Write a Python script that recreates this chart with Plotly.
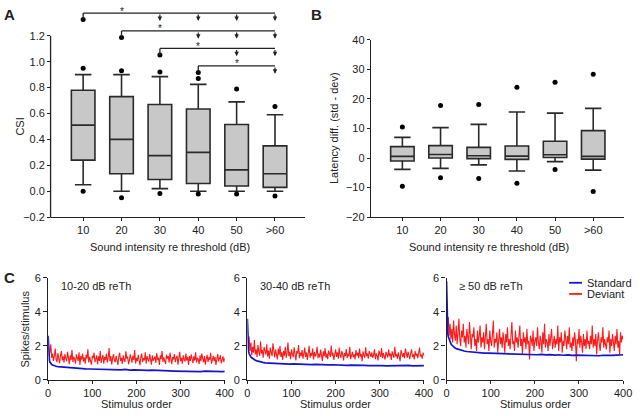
import plotly.graph_objects as go

# ---------------- data ----------------
categories = ["10", "20", "30", "40", "50", ">60"]

# Panel A: CSI box plots
csi_q1 = [0.24, 0.135, 0.09, 0.06, 0.04, 0.03]
csi_median = [0.51, 0.40, 0.275, 0.30, 0.165, 0.135]
csi_q3 = [0.78, 0.73, 0.67, 0.635, 0.515, 0.35]
csi_lower = [0.05, 0.0, 0.02, 0.0, 0.0, 0.0]
csi_upper = [0.90, 0.90, 0.885, 0.825, 0.69, 0.59]
csi_out_hi = [0.95, 0.93, 0.92, 0.87, 0.79, 0.655]
csi_out_lo = [0.0, -0.05, -0.017, -0.022, -0.022, -0.037]

# significance brackets in panel A
sig_from = [0, 1, 2, 3]
sig_level = [1.375, 1.2375, 1.1025, 0.9675]
sig_star = [1, 2, 3, 4]
sig_arrows = [[2, 3, 4, 5], [3, 4, 5], [4, 5], [5]]

# Panel B: latency difference box plots
lat_q1 = [-1.0, 0.0, -0.2, -0.45, 0.2, -0.35]
lat_median = [0.55, 1.2, 0.77, 0.66, 1.1, 0.55]
lat_q3 = [3.85, 4.2, 3.6, 4.07, 5.7, 9.3]
lat_lower = [-3.85, -3.5, -2.3, -4.4, -1.2, -4.1]
lat_upper = [7.0, 10.3, 11.4, 15.6, 15.2, 16.8]
lat_out_hi = [10.5, 17.8, 18.1, 24.0, 25.7, 28.4]
lat_out_lo = [-9.55, -6.7, -6.9, -8.5, -3.85, -11.3]

# Panel C: spikes per stimulus
std_x = [0, 1, 2, 3, 4, 5, 6, 8, 10, 12, 15, 18, 22, 26, 30, 35, 40, 46, 52, 60,
         68, 76, 85, 95, 105, 115, 125, 135, 145, 155, 165, 175, 185, 195, 205,
         215, 225, 235, 245, 255, 265, 275, 285, 295, 305, 315, 325, 335, 345,
         355, 365, 375, 385, 395, 400]
std_1020 = [2.6, 1.6, 1.3, 1.15, 1.05, 1.0, 0.95, 0.9, 0.88, 0.85,
            0.82, 0.8, 0.78, 0.77, 0.75, 0.74, 0.72, 0.71, 0.70, 0.68,
            0.67, 0.66, 0.65, 0.64, 0.63, 0.62, 0.61, 0.62, 0.60, 0.60,
            0.59, 0.62, 0.58, 0.59, 0.57, 0.58, 0.56, 0.57, 0.55, 0.54,
            0.52, 0.53, 0.52, 0.51, 0.52, 0.50, 0.51, 0.50, 0.49, 0.51,
            0.50, 0.48, 0.50, 0.49, 0.50]
std_3040 = [3.6, 2.3, 1.85, 1.65, 1.55, 1.48, 1.42, 1.35, 1.30, 1.26,
            1.20, 1.16, 1.12, 1.08, 1.05, 1.03, 1.00, 0.99, 0.97, 0.96,
            0.95, 0.96, 0.94, 0.93, 0.94, 0.92, 0.91, 0.92, 0.90, 0.91,
            0.89, 0.90, 0.88, 0.89, 0.87, 0.88, 0.86, 0.87, 0.85, 0.86,
            0.85, 0.84, 0.85, 0.83, 0.84, 0.83, 0.84, 0.82, 0.84, 0.83,
            0.85, 0.83, 0.84, 0.85, 0.84]
std_50 = [5.8, 3.6, 3.0, 2.7, 2.55, 2.45, 2.35, 2.22, 2.12, 2.05,
          1.96, 1.90, 1.84, 1.80, 1.76, 1.72, 1.70, 1.67, 1.65, 1.62,
          1.60, 1.61, 1.58, 1.57, 1.56, 1.55, 1.54, 1.55, 1.52, 1.53,
          1.50, 1.52, 1.49, 1.51, 1.48, 1.50, 1.47, 1.49, 1.46, 1.48,
          1.45, 1.47, 1.44, 1.46, 1.45, 1.43, 1.46, 1.44, 1.42, 1.45,
          1.43, 1.44, 1.46, 1.45, 1.48]

dev_x = list(range(2, 401, 2))
dev_1020 = [
    1.45, 1.62, 2.10, 1.30, 1.55, 1.12, 1.40, 1.85, 1.20, 1.05, 1.58, 1.32, 0.98, 1.46, 1.70, 1.15, 1.38, 1.02, 1.52, 1.25,
    1.10, 1.65, 1.28, 0.92, 1.44, 1.18, 1.75, 1.05, 1.36, 1.22, 0.95, 1.50, 1.30, 1.12, 1.62, 0.88, 1.40, 1.20, 1.55, 1.08,
    1.32, 0.96, 1.48, 1.25, 1.80, 1.02, 1.35, 1.15, 0.90, 1.42, 1.28, 1.60, 1.05, 1.22, 1.45, 0.92, 1.38, 1.12, 1.70, 1.00,
    1.25, 1.48, 0.95, 1.35, 1.18, 1.55, 1.02, 1.30, 1.88, 1.10, 1.40, 0.90, 1.28, 1.52, 1.15, 1.05, 1.42, 1.22, 0.88, 1.35,
    1.60, 1.12, 1.30, 0.94, 1.45, 1.20, 1.05, 1.68, 1.25, 1.38, 0.92, 1.15, 1.50, 1.28, 1.02, 1.42, 1.18, 1.75, 0.96, 1.30,
    1.10, 1.48, 1.22, 0.86, 1.35, 1.55, 1.05, 1.28, 1.15, 1.62, 0.95, 1.40, 1.20, 1.08, 1.52, 1.30, 0.90, 1.45, 1.12, 1.25,
    1.38, 1.00, 1.58, 1.18, 1.30, 0.88, 1.45, 1.22, 1.70, 1.05, 1.32, 1.12, 0.94, 1.48, 1.25, 1.40, 1.02, 1.60, 1.15, 0.92,
    1.35, 1.20, 1.52, 1.05, 1.28, 1.42, 0.90, 1.18, 1.65, 1.10, 1.30, 0.96, 1.45, 1.22, 1.08, 1.55, 1.15, 1.35, 0.88, 1.40,
    1.12, 1.50, 1.25, 0.98, 1.38, 1.15, 1.62, 1.02, 1.30, 1.20, 0.92, 1.45, 1.10, 1.55, 1.28, 1.05, 1.40, 0.90, 1.22, 1.48,
    1.05, 1.32, 1.18, 1.60, 0.95, 1.25, 1.42, 1.10, 1.35, 0.88, 1.20, 1.52, 1.08, 1.30, 1.45, 0.98, 1.22, 1.38, 1.05, 1.28]
dev_3040 = [
    1.85, 2.55, 1.70, 2.20, 1.45, 1.95, 1.60, 2.35, 1.50, 1.80, 1.35, 2.05, 1.65, 1.42, 2.25, 1.55, 1.75, 1.30, 1.95, 1.62,
    1.48, 2.10, 1.38, 1.72, 1.25, 1.90, 1.55, 1.40, 2.15, 1.60, 1.32, 1.78, 1.50, 1.20, 1.85, 1.45, 2.00, 1.35, 1.62, 1.18,
    1.70, 1.42, 1.95, 1.30, 1.58, 2.20, 1.40, 1.65, 1.22, 1.80, 1.50, 1.35, 1.92, 1.45, 1.15, 1.70, 1.55, 2.05, 1.28, 1.60,
    1.40, 1.75, 1.25, 1.55, 1.90, 1.35, 1.62, 1.18, 1.48, 2.00, 1.30, 1.58, 1.42, 1.85, 1.20, 1.65, 1.38, 1.52, 1.95, 1.28,
    1.55, 1.32, 1.78, 1.45, 1.12, 1.68, 1.40, 1.88, 1.30, 1.55, 1.22, 1.72, 1.48, 1.35, 2.02, 1.42, 1.60, 1.18, 1.50, 1.80,
    1.35, 1.62, 1.25, 1.90, 1.45, 1.30, 1.70, 1.52, 1.15, 1.58, 1.40, 1.82, 1.28, 1.55, 1.38, 1.95, 1.22, 1.48, 1.65, 1.32,
    1.50, 1.20, 1.75, 1.42, 1.60, 1.28, 1.85, 1.38, 1.52, 1.10, 1.68, 1.45, 1.30, 1.92, 1.40, 1.55, 1.25, 1.70, 1.48, 1.35,
    1.62, 1.30, 1.48, 1.80, 1.22, 1.55, 1.40, 1.15, 1.72, 1.45, 1.35, 1.88, 1.28, 1.58, 1.42, 1.20, 1.65, 1.50, 1.32, 1.78,
    1.40, 1.55, 1.18, 1.68, 1.45, 1.30, 1.95, 1.38, 1.52, 1.25, 1.62, 1.42, 1.10, 1.75, 1.48, 1.35, 1.58, 1.28, 1.85, 1.40,
    1.30, 1.65, 1.45, 1.22, 1.58, 1.80, 1.35, 1.50, 1.20, 1.70, 1.42, 1.55, 1.28, 1.62, 1.90, 1.38, 1.48, 1.25, 1.60, 1.45]
dev_50 = [
    3.10, 3.70, 2.60, 3.30, 2.40, 3.00, 2.20, 3.50, 2.70, 2.30, 3.20, 2.10, 2.80, 3.60, 2.40, 2.00, 2.90, 2.50, 3.30, 2.20,
    2.60, 1.90, 3.00, 2.40, 2.10, 3.40, 2.30, 1.80, 2.70, 2.50, 3.10, 2.00, 2.40, 1.70, 2.90, 2.20, 2.60, 3.20, 1.90, 2.50,
    2.20, 2.80, 1.80, 2.50, 3.30, 2.10, 2.40, 1.70, 2.90, 2.30, 2.00, 2.70, 3.50, 1.90, 2.40, 2.20, 2.80, 1.60, 2.60, 3.00,
    2.10, 2.50, 1.90, 2.80, 2.30, 1.60, 2.70, 2.20, 3.10, 2.00, 2.40, 1.80, 2.60, 3.40, 2.10, 2.30, 1.70, 2.90, 2.20, 2.50,
    1.90, 2.60, 3.20, 2.00, 2.40, 1.50, 2.80, 2.20, 2.50, 1.80, 3.00, 2.10, 2.30, 1.20, 2.60, 2.40, 2.00, 2.90, 1.70, 2.30,
    2.50, 2.00, 3.10, 2.20, 1.80, 2.60, 2.30, 1.60, 2.80, 2.10, 3.30, 1.90, 2.40, 2.20, 1.70, 2.70, 2.00, 2.50, 3.00, 1.80,
    2.30, 2.60, 1.90, 2.40, 2.10, 3.20, 1.70, 2.50, 2.20, 2.80, 1.60, 2.30, 2.00, 2.90, 2.40, 1.80, 2.60, 2.10, 3.10, 1.90,
    2.20, 1.70, 2.50, 2.00, 2.80, 2.30, 1.10, 2.40, 2.10, 3.00, 1.90, 2.60, 2.20, 1.60, 2.70, 2.00, 2.40, 1.80, 2.90, 2.10,
    2.30, 1.80, 2.60, 2.10, 3.20, 1.90, 2.40, 2.00, 2.70, 1.50, 2.30, 2.80, 2.10, 1.70, 2.50, 2.20, 3.10, 1.90, 2.40, 2.00,
    1.80, 2.50, 2.20, 2.90, 1.60, 2.40, 2.00, 2.70, 2.20, 1.70, 2.60, 2.10, 3.00, 1.90, 2.30, 1.50, 2.80, 2.20, 2.60, 2.40]

c_titles = ["10-20 dB reTh", "30-40 dB reTh", "\u2265 50 dB reTh"]

# ---------------- styling / layout helpers ----------------
W, H = 640, 416
FONT = "Arial, 'Liberation Sans', sans-serif"
INK = "#222222"
BOXFILL = "#c8c8c8"
BLUE = "#1414d2"
RED = "#ff1a1a"
FS = 11


def fx(p):
    return p / W


def fy(p):
    return 1 - p / H


fig = go.Figure()

idx = list(range(len(categories)))


def add_boxes(xa, ya, q1, med, q3, lo, hi, out_hi, out_lo):
    fig.add_trace(go.Box(
        x=idx, q1=q1, median=med, q3=q3, lowerfence=lo, upperfence=hi,
        width=0.615, whiskerwidth=0.7, fillcolor=BOXFILL,
        line=dict(color="#2a2a2a", width=1.6), boxpoints=False,
        xaxis=xa, yaxis=ya, showlegend=False, hoverinfo="skip"))
    fig.add_trace(go.Scatter(
        x=idx + idx, y=out_hi + out_lo, mode="markers",
        marker=dict(color="black", size=5), xaxis=xa, yaxis=ya,
        showlegend=False, hoverinfo="skip"))


add_boxes("x", "y", csi_q1, csi_median, csi_q3, csi_lower, csi_upper,
          csi_out_hi, csi_out_lo)
add_boxes("x2", "y2", lat_q1, lat_median, lat_q3, lat_lower, lat_upper,
          lat_out_hi, lat_out_lo)

# significance brackets (panel A)
shapes = []
annotations = []
drop = 0.05
dot_x, dot_y = [], []
for f, lev, st, arr in zip(sig_from, sig_level, sig_star, sig_arrows):
    shapes.append(dict(type="line", xref="x", yref="y", x0=f, x1=idx[-1],
                       y0=lev, y1=lev, line=dict(color=INK, width=1.3)))
    shapes.append(dict(type="line", xref="x", yref="y", x0=f, x1=f,
                       y0=lev, y1=lev - drop, line=dict(color=INK, width=1.3)))
    dot_x.append(f)
    dot_y.append(lev - drop)
    for a in arr:
        annotations.append(dict(xref="x", yref="y", axref="x", ayref="y",
                                x=a, y=lev - drop - 0.01, ax=a, ay=lev,
                                text="", showarrow=True, arrowhead=2,
                                arrowsize=0.75, arrowwidth=1.2,
                                arrowcolor=INK, standoff=0))
    annotations.append(dict(xref="x", yref="y", x=st, y=lev, text="*",
                            showarrow=False, yanchor="middle", yshift=2,
                            font=dict(size=10, color=INK, family=FONT)))
fig.add_trace(go.Scatter(x=dot_x, y=dot_y, mode="markers",
                         marker=dict(color="black", size=5), xaxis="x",
                         yaxis="y", showlegend=False, hoverinfo="skip"))

# Panel C traces
c_std = [std_1020, std_3040, std_50]
c_dev = [dev_1020, dev_3040, dev_50]
for k in range(3):
    xa = "x%d" % (k + 3)
    ya = "y%d" % (k + 3)
    fig.add_trace(go.Scatter(x=dev_x, y=c_dev[k], mode="lines",
                             line=dict(color=RED, width=1.1),
                             name="Deviant", xaxis=xa, yaxis=ya,
                             showlegend=False, hoverinfo="skip"))
    fig.add_trace(go.Scatter(x=std_x, y=c_std[k], mode="lines",
                             line=dict(color=BLUE, width=1.7),
                             name="Standard", xaxis=xa, yaxis=ya,
                             showlegend=False, hoverinfo="skip"))

# ---------------- axes ----------------
tickfont = dict(size=FS, color=INK, family=FONT)
common = dict(showgrid=False, zeroline=False, ticks="outside",
              tickcolor=INK, tickwidth=1.2, linecolor=INK, linewidth=1.3,
              tickfont=tickfont, fixedrange=True)

A_bot, A_top = 217.4, 0.0
A_range = [-0.2, 1.43]
layout_axes = dict(
    xaxis=dict(domain=[fx(49), fx(308)], range=[-0.836, 5.788], anchor="y",
               tickmode="array", tickvals=idx, ticktext=categories,
               showline=True, ticklen=3, **common),
    yaxis=dict(domain=[fy(A_bot), fy(A_top)], range=A_range, anchor="x",
               tickmode="array",
               tickvals=[-0.2, 0, 0.2, 0.4, 0.6, 0.8, 1.0, 1.2],
               tickformat=".1f", showline=False, ticklen=3, **common),
    xaxis2=dict(domain=[fx(375), fx(633)], range=[-0.823, 5.81], anchor="y2",
                tickmode="array", tickvals=idx, ticktext=categories,
                showline=True, ticklen=3, **common),
    yaxis2=dict(domain=[fy(217.4), fy(34.9)], range=[-20, 40], anchor="x2",
                tickmode="array", tickvals=[-20, -10, 0, 10, 20, 30, 40],
                showline=True, ticklen=3, **common),
)
c_x = [(46, 226), (249, 429), (452, 632)]
for k, (l, r) in enumerate(c_x):
    n = k + 3
    layout_axes["xaxis%d" % n] = dict(
        domain=[fx(l), fx(r)], range=[0, 400], anchor="y%d" % n,
        tickmode="array", tickvals=[0, 100, 200, 300, 400],
        showline=True, ticklen=3, **common)
    layout_axes["yaxis%d" % n] = dict(
        domain=[fy(385), fy(280)], range=[0, 6], anchor="x%d" % n,
        tickmode="array", tickvals=[0, 2, 4, 6],
        showline=True, ticklen=4, **common)

# custom y-axis line for panel A (stops at 1.2 like the original)
ya0 = fy(A_bot)
ya1 = ya0 + (1.2 - A_range[0]) / (A_range[1] - A_range[0]) * (fy(A_top) - ya0)
shapes.append(dict(type="line", xref="paper", yref="paper", x0=fx(49) - 0.0008,
                   x1=fx(49) - 0.0008, y0=ya0 - 0.0015, y1=ya1,
                   line=dict(color=INK, width=1.3)))


def txt(text, x, y, size=FS, bold=False, angle=0, xanchor="center",
        yanchor="middle"):
    annotations.append(dict(
        xref="paper", yref="paper", x=x, y=y,
        text=("<b>%s</b>" % text) if bold else text,
        showarrow=False, xanchor=xanchor, yanchor=yanchor, textangle=angle,
        font=dict(size=size, color=INK, family=FONT)))


# panel letters
txt("A", fx(6.5), fy(8.5), size=15, bold=True)
txt("B", fx(319), fy(8.5), size=15, bold=True)
txt("C", fx(7), fy(280), size=15, bold=True)

# axis titles
txt("CSI", fx(17.5), fy(124), angle=-90)
txt("Latency diff. (std - dev)", fx(338), fy(126), angle=-90)
txt("Sound intensity re threshold (dB)", fx(170), fy(248))
txt("Sound intensity re threshold (dB)", fx(495), fy(248))
txt("Spikes/stimulus", fx(22.5), fy(333), angle=-90)
for cx in [136, 339, 542.5]:
    txt("Stimulus order", fx(cx), fy(410))
for t, lx in zip(c_titles, [57, 260, 463]):
    txt(t, fx(lx), fy(288.5), xanchor="left")

# legend (panel C3)
for name, col, py in [("Standard", BLUE, 285), ("Deviant", RED, 296.5)]:
    shapes.append(dict(type="line", xref="paper", yref="paper",
                       x0=fx(577), x1=fx(590), y0=fy(py), y1=fy(py),
                       line=dict(color=col, width=1.8)))
    txt(name, fx(593), fy(py), xanchor="left")

fig.update_layout(
    width=W, height=H, margin=dict(l=0, r=0, t=0, b=0),
    paper_bgcolor="white", plot_bgcolor="white",
    font=dict(family=FONT, size=FS, color=INK),
    shapes=shapes, annotations=annotations, showlegend=False,
    **layout_axes)

fig.write_html("out.html", config={"displayModeBar": False},
               post_script="document.body.style.margin='0px';")
